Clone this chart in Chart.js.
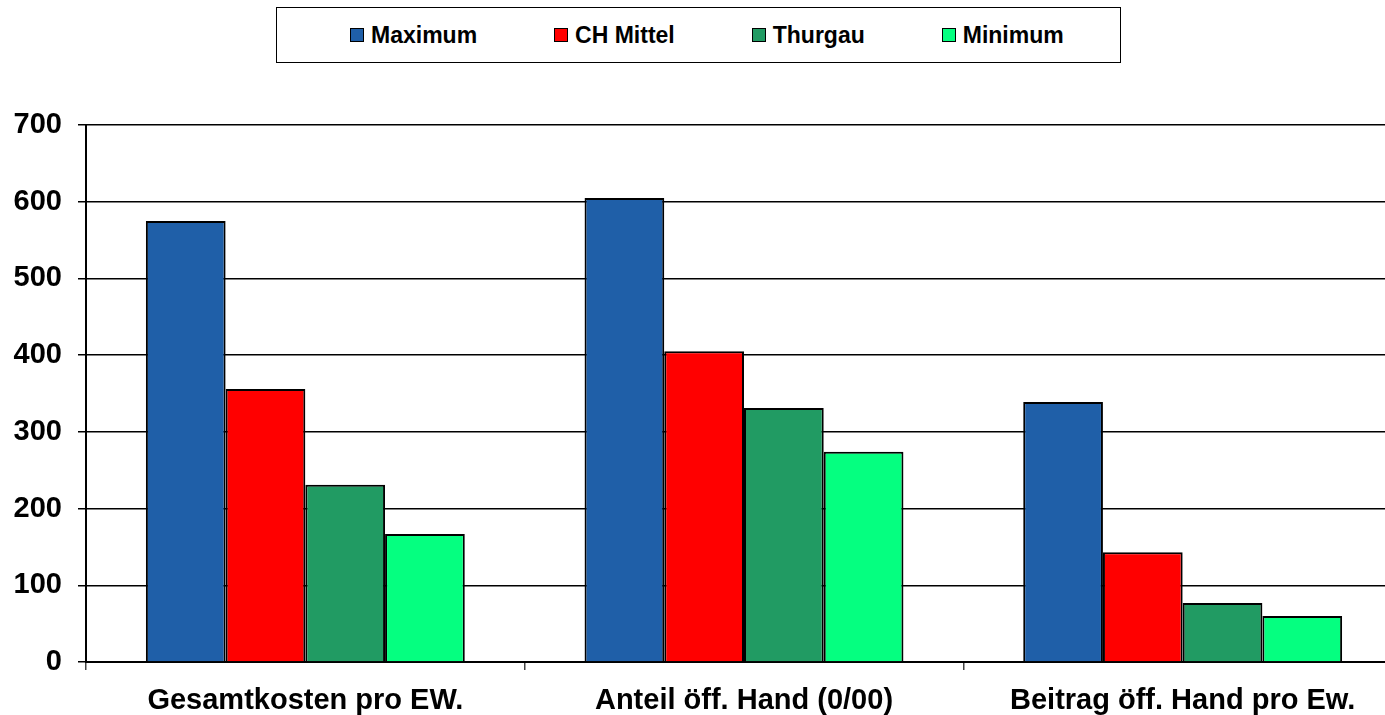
<!DOCTYPE html>
<html>
<head>
<meta charset="utf-8">
<script src="https://cdn.jsdelivr.net/npm/chart.js@4"></script>
<style>
  html, body { margin: 0; padding: 0; background: #fff; overflow: hidden; }
  #wrap { position: relative; width: 1385px; height: 715px; overflow: hidden; }
  #chart { position: absolute; left: 0; top: 0; }
  #legend {
    position: absolute; left: 276px; top: 7px; width: 845px; height: 56px;
    box-sizing: border-box; border: 1px solid #000; background: #fff;
    display: flex; align-items: center; padding-left: 73px; gap: 77px;
    font: bold 23px "Liberation Sans", Arial, sans-serif; color: #000;
  }
  #legend .item { display: flex; align-items: center; }
  #legend .box { width: 12px; height: 12px; border: 1px solid #000; margin-right: 7px; }
</style>
</head>
<body>
<div id="wrap">
  <canvas id="chart" width="1402" height="715"></canvas>
  <div id="legend"></div>
</div>
<script>
  // ================== DATA ==================
  const categories = ["Gesamtkosten pro EW.", "Anteil öff. Hand (0/00)", "Beitrag öff. Hand pro Ew."];
  const seriesNames = ["Maximum", "CH Mittel", "Thurgau", "Minimum"];
  const maximum = [575, 605, 339];
  const chMittel = [356, 405, 143];
  const thurgau = [231, 331, 77];
  const minimum = [167, 274, 60];
  const yTicks = [0, 100, 200, 300, 400, 500, 600, 700];

  const colors = ["#1F5FA8", "#FF0000", "#219B63", "#05FF80"];
  const values = [maximum, chMittel, thurgau, minimum];

  // ================== LEGEND ==================
  const legend = document.getElementById("legend");
  seriesNames.forEach((name, i) => {
    const item = document.createElement("div");
    item.className = "item";
    item.innerHTML = `<span class="box" style="background:${colors[i]}"></span><span>${name}</span>`;
    legend.appendChild(item);
  });

  // ================== CHART ==================
  const ctx = document.getElementById("chart");
  new Chart(ctx, {
    type: "bar",
    data: {
      labels: categories,
      datasets: seriesNames.map((name, i) => ({
        label: name,
        data: values[i],
        backgroundColor: colors[i],
        borderColor: "#000",
        borderWidth: 2,
        borderSkipped: "bottom",
        categoryPercentage: 0.727,
        barPercentage: 1.0,
      })),
    },
    options: {
      responsive: false,
      animation: false,
      devicePixelRatio: 1,
      layout: { padding: { top: 125, left: 0, right: 0, bottom: 0 } },
      plugins: { legend: { display: false }, tooltip: { enabled: false } },
      scales: {
        x: {
          offset: true,
          grid: { drawOnChartArea: false, drawTicks: true, tickLength: 8, color: "#444", lineWidth: 1.5, offset: true },
          border: { color: "#000", width: 2 },
          ticks: { color: "#000", padding: 14, font: { family: "Liberation Sans", size: 29, weight: "bold" } },
          afterFit: (s) => { s.height = 53; },
        },
        y: {
          min: 0,
          max: 700,
          afterBuildTicks: (s) => { s.ticks = yTicks.map((v) => ({ value: v })); },
          grid: { color: "#000", lineWidth: 1.5, tickLength: 8 },
          border: { color: "#000", width: 2 },
          ticks: { color: "#000", padding: 16, font: { family: "Liberation Sans", size: 29, weight: "bold" } },
          afterFit: (s) => { s.width = 86; },
        },
      },
    },
  });
</script>
</body>
</html>
